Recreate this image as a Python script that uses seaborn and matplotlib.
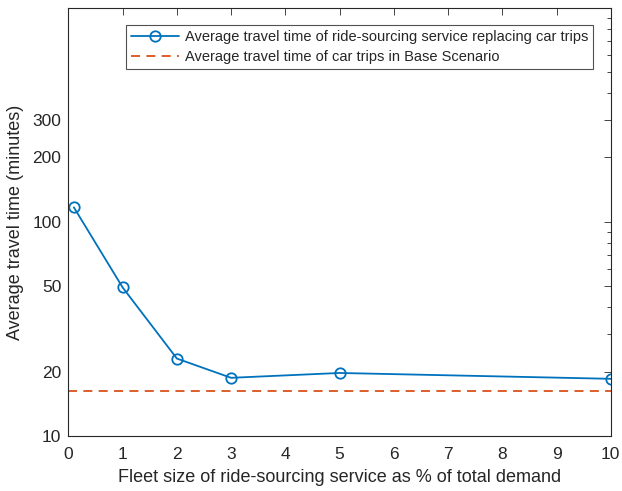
import seaborn as sns
import matplotlib.pyplot as plt
import pandas as pd

# fleet size (% of total demand) and average travel time (minutes)
fleet_size = [0.1, 1, 2, 3, 5, 10]
travel_time = [117, 49.4, 23.0, 18.7, 19.7, 18.5]
base_time = 16.3

y_ticks = [10, 20, 50, 100, 200, 300]

df = pd.DataFrame({"fleet": fleet_size, "time": travel_time})

sns.set_theme(style="white")
plt.rcParams['font.family'] = ['Liberation Sans', 'DejaVu Sans']
txt = "#262626"

fig = plt.figure(figsize=(6.22, 4.91), dpi=100)
ax = fig.add_axes([0.110, 0.112, 0.872, 0.872])

sns.lineplot(data=df, x="fleet", y="time", ax=ax, color="#0072BD", linewidth=1.3,
             marker="o", markersize=7.5, markerfacecolor="none", markeredgecolor="#0072BD",
             markeredgewidth=1.3,
             label="Average travel time of ride-sourcing service replacing car trips")
ax.axhline(base_time, color="#D95319", linestyle=(0, (5, 3.5)), linewidth=1.3,
           label="Average travel time of car trips in Base Scenario")

ax.set_yscale("log")
ax.set_xlim(0, 10)
ax.set_ylim(10, 1000)
ax.set_xticks(range(0, 11))
ax.set_yticks(y_ticks)
ax.set_yticklabels([str(t) for t in y_ticks])
ax.tick_params(axis="both", which="both", direction="in", top=True, right=True,
               colors=txt, labelsize=12.5, labelcolor=txt)
ax.tick_params(which="major", length=5, width=0.6)
ax.tick_params(which="minor", length=3, width=0.6)
ax.tick_params(axis="x", pad=8)
ax.tick_params(axis="y", pad=5)
ax.minorticks_on()
ax.xaxis.set_minor_locator(plt.NullLocator())
ax.yaxis.set_minor_formatter(plt.NullFormatter())
for s in ax.spines.values():
    s.set_color(txt)
    s.set_linewidth(0.8)

ax.set_xlabel("Fleet size of ride-sourcing service as % of total demand", fontsize=13, color=txt,
              labelpad=5)
ax.set_ylabel("Average travel time (minutes)", fontsize=13, color=txt, labelpad=6)

leg = ax.legend(loc="upper right", bbox_to_anchor=(0.968, 0.960), fontsize=10.5,
                frameon=True, fancybox=False, handlelength=3.3, borderpad=0.35,
                labelspacing=0.42, handletextpad=0.4, borderaxespad=0)
leg.get_frame().set_edgecolor(txt)
leg.get_frame().set_linewidth(0.8)
for t in leg.get_texts():
    t.set_color(txt)

plt.savefig("out.png", dpi=100)
